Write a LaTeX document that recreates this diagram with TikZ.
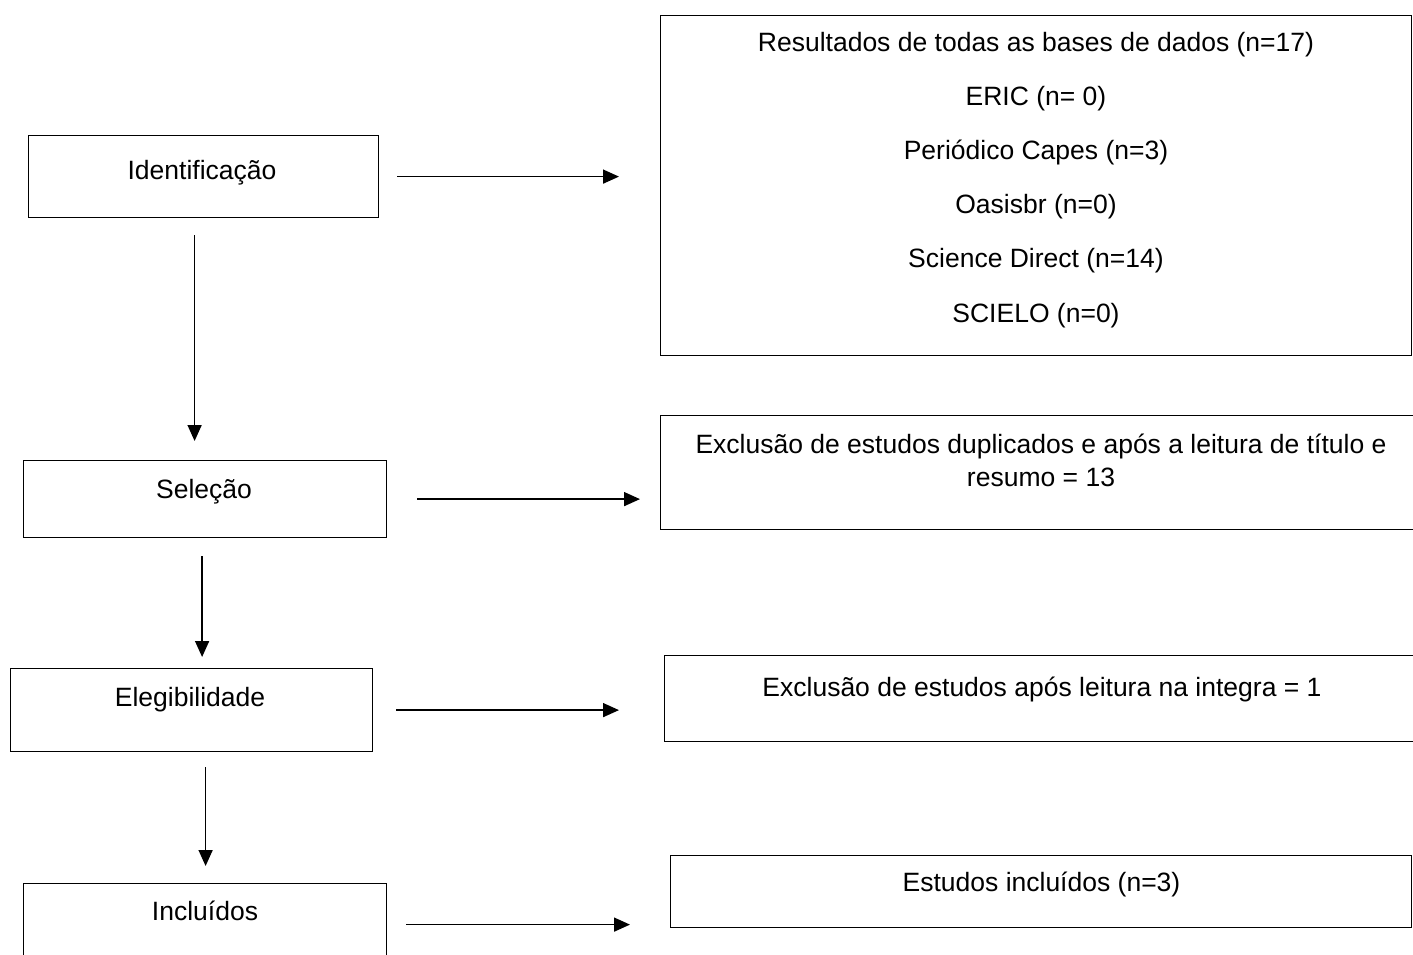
\documentclass[tikz,border=0pt]{standalone}
\usepackage{fontspec}
\setmainfont{Liberation Sans}
\usetikzlibrary{arrows.meta, positioning}

\begin{document}
\begin{tikzpicture}[x=1pt,y=-1pt,line width=1.2pt,
		caixa/.style={draw, anchor=north west, inner sep=0pt},
		texto/.style={anchor=base, align=center, inner sep=0pt, font=\fontsize{26.5}{33}\selectfont},
		seta/.style={-{Triangle[length=16pt,width=14pt]}, line width=1.6pt}]
			\useasboundingbox (0,0) rectangle (1413,954);
			\clip (0,0) rectangle (1413,954);

			\node[caixa, minimum width=350pt, minimum height=82pt] (cxIdent) at (28,135) {};
			\node[caixa, minimum width=363pt, minimum height=77pt] (cxSel) at (23,460) {};
			\node[caixa, minimum width=362pt, minimum height=83pt] (cxEleg) at (10,668) {};
			\node[caixa, minimum width=363pt, minimum height=82pt] (cxIncl) at (23,883) {};
			\node[caixa, minimum width=751pt, minimum height=340pt] (cxRes) at (660,15) {};
			\node[caixa, minimum width=790pt, minimum height=114pt] (cxDup) at (660,415) {};
			\node[caixa, minimum width=790pt, minimum height=86pt] (cxLeit) at (664,655) {};
			\node[caixa, minimum width=741pt, minimum height=72pt] (cxFim) at (670,855) {};

			\node[texto] (ident) at (202,179.3) {Identificação};
			\node[texto] (sel) at (204,498.3) {Seleção};
			\node[texto] (eleg) at (190,706.7) {Elegibilidade};
			\node[texto] (incl) at (205,920) {Incluídos};
			\node[texto, font=\fontsize{26.5}{54.2}\selectfont] (res) at (1036,322) {Resultados de todas as bases de dados (n=17)\\ERIC (n= 0)\\Periódico Capes (n=3)\\Oasisbr (n=0)\\Science Direct (n=14)\\SCIELO (n=0)};
			\node[texto] (dup) at (1041,486) {Exclusão de estudos duplicados e após a leitura de título e\\resumo = 13};
			\node[texto] (leit) at (1042,696.7) {Exclusão de estudos após leitura na integra = 1};
			\node[texto] (fim) at (1041.5,891) {Estudos incluídos (n=3)};

			\path[seta]
			(cxIdent.east) edge [shorten <=18pt, shorten >=41pt] (cxIdent.east -| cxRes.west)
			(cxSel.east) edge [shorten <=30pt, shorten >=20pt] (cxSel.east -| cxDup.west)
			(cxEleg.east) edge [shorten <=23pt, shorten >=45pt] (cxEleg.east -| cxLeit.west)
			(cxIncl.east) edge [shorten <=19pt, shorten >=40pt] (cxIncl.east -| cxFim.west)
			([xshift=-9pt]cxIdent.south) edge [shorten <=17pt, shorten >=19pt] ([xshift=-9pt]cxIdent.south |- cxSel.north)
			([xshift=-3pt]cxSel.south) edge [shorten <=18pt, shorten >=11pt] ([xshift=-3pt]cxSel.south |- cxEleg.north)
			([xshift=14pt]cxEleg.south) edge [shorten <=15pt, shorten >=17pt] ([xshift=14pt]cxEleg.south |- cxIncl.north);
		\end{tikzpicture}
\end{document}
